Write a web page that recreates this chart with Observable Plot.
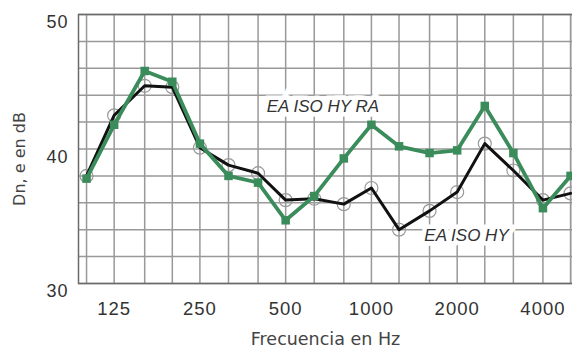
<!DOCTYPE html>
<html>
<head>
<meta charset="utf-8">
<script src="https://cdn.jsdelivr.net/npm/d3@7"></script>
<script src="https://cdn.jsdelivr.net/npm/@observablehq/plot@0.6"></script>
<style>
  html, body { margin: 0; padding: 0; background: #fff; }
  #chart svg { display: block; }
  .tickx text, .ticky text { letter-spacing: 1px; }
</style>
</head>
<body>
<div id="chart"></div>
<script>
const freqs = [100, 125, 160, 200, 250, 315, 400, 500, 630, 800, 1000, 1250, 1600, 2000, 2500, 3150, 4000, 5000];
const hyRa = [37.8, 41.8, 45.8, 45.0, 40.4, 38.0, 37.5, 34.7, 36.5, 39.3, 41.8, 40.2, 39.7, 39.9, 43.2, 39.7, 35.6, 38.0];
const hy   = [38.0, 42.5, 44.7, 44.6, 40.1, 38.8, 38.2, 36.2, 36.3, 35.9, 37.1, 34.0, 35.4, 36.8, 40.4, 38.4, 36.2, 36.7];
const xTicks = [125, 250, 500, 1000, 2000, 4000];
const yTicks = [30, 40, 50];
const yGrid = [30, 32, 34, 36, 38, 40, 42, 44, 46, 48, 50];
const labelText = ["EA ISO HY RA", "EA ISO HY"];
const labelFreq = [676, 2157];
const labelDb = [43.16, 33.6];

const rowsRa = freqs.map((f, i) => ({f, v: hyRa[i]}));
const rowsHy = freqs.map((f, i) => ({f, v: hy[i]}));
const labels = labelText.map((t, i) => ({t, f: labelFreq[i], v: labelDb[i]}));

const green = "#3b8c5b";

const chart = Plot.plot({
  width: 572,
  height: 347,
  marginLeft: 78,
  marginRight: 0,
  marginTop: 14,
  marginBottom: 64,
  style: {background: "#fff", fontFamily: "Liberation Sans, Arial, sans-serif"},
  x: {type: "log", domain: [93.7, 5080]},
  y: {domain: [30, 50]},
  marks: [
    Plot.ruleX(freqs, {stroke: "#999", strokeWidth: 1.5}),
    Plot.ruleY(yGrid, {stroke: "#999", strokeWidth: 1.5}),
    Plot.frame({stroke: "#6a6a6a", strokeWidth: 1.5}),
    Plot.text(labels, {x: "f", y: "v", text: "t", fontSize: 17, fontStyle: "italic", fill: "#333",
      stroke: "white", strokeWidth: 9, strokeLinejoin: "miter", textAnchor: "middle"}),
    Plot.dot(rowsHy, {x: "f", y: "v", r: 6.5, stroke: "#999", strokeWidth: 1.2, fill: "none"}),
    Plot.line(rowsHy, {x: "f", y: "v", stroke: "#111", strokeWidth: 3}),
    Plot.line(rowsRa, {x: "f", y: "v", stroke: green, strokeWidth: 3.8}),
    Plot.dot(rowsRa, {x: "f", y: "v", symbol: "square", r: 4.8, fill: green}),
    Plot.axisX({ticks: xTicks, tickFormat: d => String(d), tickSize: 0, tickPadding: 18, fontSize: 18.5, fill: "#333", label: null, className: "tickx"}),
    Plot.axisY({ticks: yTicks, tickSize: 0, tickPadding: 10, fontSize: 18, fill: "#333", dy: 8, label: null, className: "ticky"}),
    Plot.text(["Frecuencia en Hz"], {frameAnchor: "bottom", textAnchor: "middle", dy: 61, fontSize: 17.5, fill: "#444", fontFamily: "DejaVu Sans"}),
    Plot.text(["Dn, e en dB"], {frameAnchor: "left", textAnchor: "middle", lineAnchor: "middle", dx: -59, dy: 10, rotate: -90, fontSize: 16, fill: "#444", fontFamily: "DejaVu Sans"})
  ]
});
document.getElementById("chart").appendChild(chart);
</script>
</body>
</html>
